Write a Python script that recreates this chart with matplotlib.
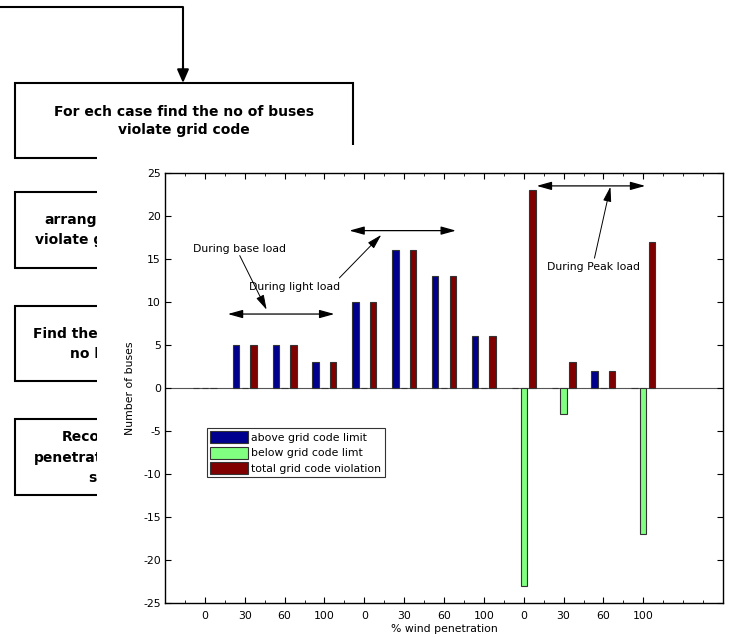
import matplotlib
matplotlib.use("Agg")
import matplotlib.pyplot as plt
import numpy as np
from matplotlib.patches import Rectangle

plt.rcParams['font.family'] = ['DejaVu Sans']
plt.rcParams['axes.unicode_minus'] = False

# case labels (% wind penetration for base, light and peak load)
positions = np.arange(1, 13)
tick_labels = ['0', '30', '60', '100'] * 3
above_limit = [0, 5, 5, 3, 10, 16, 13, 6, 0, 0, 2, 0]
below_limit = [0, 0, 0, 0, 0, 0, 0, 0, -23, -3, 0, -17]
total_violation = [0, 5, 5, 3, 10, 16, 13, 6, 23, 3, 2, 17]
series_names = ['above grid code limit', 'below grid code limt', 'total grid code violation']
series_colors = ['#00008f', '#80ff80', '#800000']

W, H = 733, 637
fig = plt.figure(figsize=(W / 100, H / 100), dpi=100)

# flowchart layer in pixel coordinates
bg = fig.add_axes([0, 0, 1, 1])
bg.set_xlim(0, W)
bg.set_ylim(H, 0)
bg.axis('off')

lw = 1.5
bg.plot([0, 183, 183], [7, 7, 68], color='k', lw=lw)
bg.annotate('', xy=(183, 83), xytext=(183, 66),
            arrowprops=dict(arrowstyle='-|>,head_width=0.35,head_length=0.8',
                            color='k', lw=lw, shrinkA=0, shrinkB=0))

for y0, y1 in [(83, 158), (192, 268), (306, 381), (419, 495)]:
    bg.add_patch(Rectangle((15, y0), 338, y1 - y0, fill=False, ec='k', lw=lw))

fs = 10
bg.text(184, 112, 'For ech case find the no of buses', ha='center', va='center',
        fontsize=fs, fontweight='bold')
bg.text(184, 130, 'violate grid code', ha='center', va='center',
        fontsize=fs, fontweight='bold')

# the chart panel hides the rest of these boxes
clip = Rectangle((0, 0), 97, H, transform=bg.transData)
box_lines = [
    (44, 220, 'arrange'),
    (35, 240, 'violate gr'),
    (33, 334, 'Find the c'),
    (70, 354, 'no b'),
    (62, 437, 'Reco'),
    (34, 458, 'penetrat'),
    (88, 478, 'se'),
]
for x, y, s in box_lines:
    t = bg.text(x, y, s, ha='left', va='center', fontsize=fs, fontweight='bold')
    t.set_clip_path(clip)

# white chart area sits on top of the flowchart
bg.add_patch(Rectangle((97, 145), W - 97, H - 145, fc='white', ec='none', zorder=10))

ax = fig.add_axes([165 / W, 34 / H, 558 / W, 430 / H])
ax.set_zorder(5)

bw = 0.16
off = 0.22
for i, (vals, name, c) in enumerate(zip([above_limit, below_limit, total_violation],
                                        series_names, series_colors)):
    ax.bar(positions + (i - 1) * off, vals, width=bw, color=c,
           edgecolor='#333333', linewidth=0.8, label=name)

ax.axhline(0, color='#555555', lw=0.8, zorder=0)
ax.set_xlim(0, 14)
ax.set_ylim(-25, 25)
ax.set_xticks(positions)
ax.set_xticklabels(tick_labels)
ax.set_xticks(np.arange(0.5, 14, 0.5), minor=True)
ax.set_yticks(np.arange(-25, 26, 5))
ax.tick_params(which='both', direction='in', top=True, right=True, labelsize=7.8)
ax.tick_params(which='major', length=4)
ax.tick_params(which='minor', length=2)
ax.tick_params(axis='x', which='major', pad=6)
ax.tick_params(axis='y', which='major', pad=3)
ax.set_xlabel('% wind penetration', fontsize=7.8, labelpad=2)
ax.set_ylabel('Number of buses', fontsize=7.8, labelpad=6)
for sp in ax.spines.values():
    sp.set_linewidth(1)

arr2 = dict(arrowstyle='<|-|>,head_width=0.25,head_length=0.9', color='k', lw=0.9,
            shrinkA=0, shrinkB=0)
arr1 = dict(arrowstyle='-|>,head_width=0.25,head_length=0.9', color='k', lw=0.7,
            shrinkA=0, shrinkB=0)

ax.annotate('', xy=(1.575, 8.6), xytext=(4.25, 8.6), arrowprops=arr2)
ax.annotate('', xy=(4.625, 18.3), xytext=(7.3, 18.3), arrowprops=arr2)
ax.annotate('', xy=(9.325, 23.5), xytext=(12.05, 23.5), arrowprops=arr2)

ax.text(0.7, 16.2, 'During base load', fontsize=7.8, va='center')
ax.annotate('', xy=(2.55, 9.1), xytext=(1.875, 15.4), arrowprops=arr1)
ax.text(2.1, 11.7, 'During light load', fontsize=7.8, va='center')
ax.annotate('', xy=(5.425, 17.8), xytext=(4.375, 12.8), arrowprops=arr1)
ax.text(9.575, 14.1, 'During Peak load', fontsize=7.8, va='center')
ax.annotate('', xy=(11.175, 23.4), xytext=(10.775, 15.1), arrowprops=arr1)

leg = ax.legend(loc='upper left', bbox_to_anchor=(0.075, 0.407), fontsize=7.8,
                frameon=True, fancybox=False, edgecolor='k', borderpad=0.3,
                handlelength=3.5, handleheight=1.3, handletextpad=0.3,
                labelspacing=0.35, borderaxespad=0)
leg.get_frame().set_linewidth(0.8)

fig.savefig('out.png', dpi=100)
